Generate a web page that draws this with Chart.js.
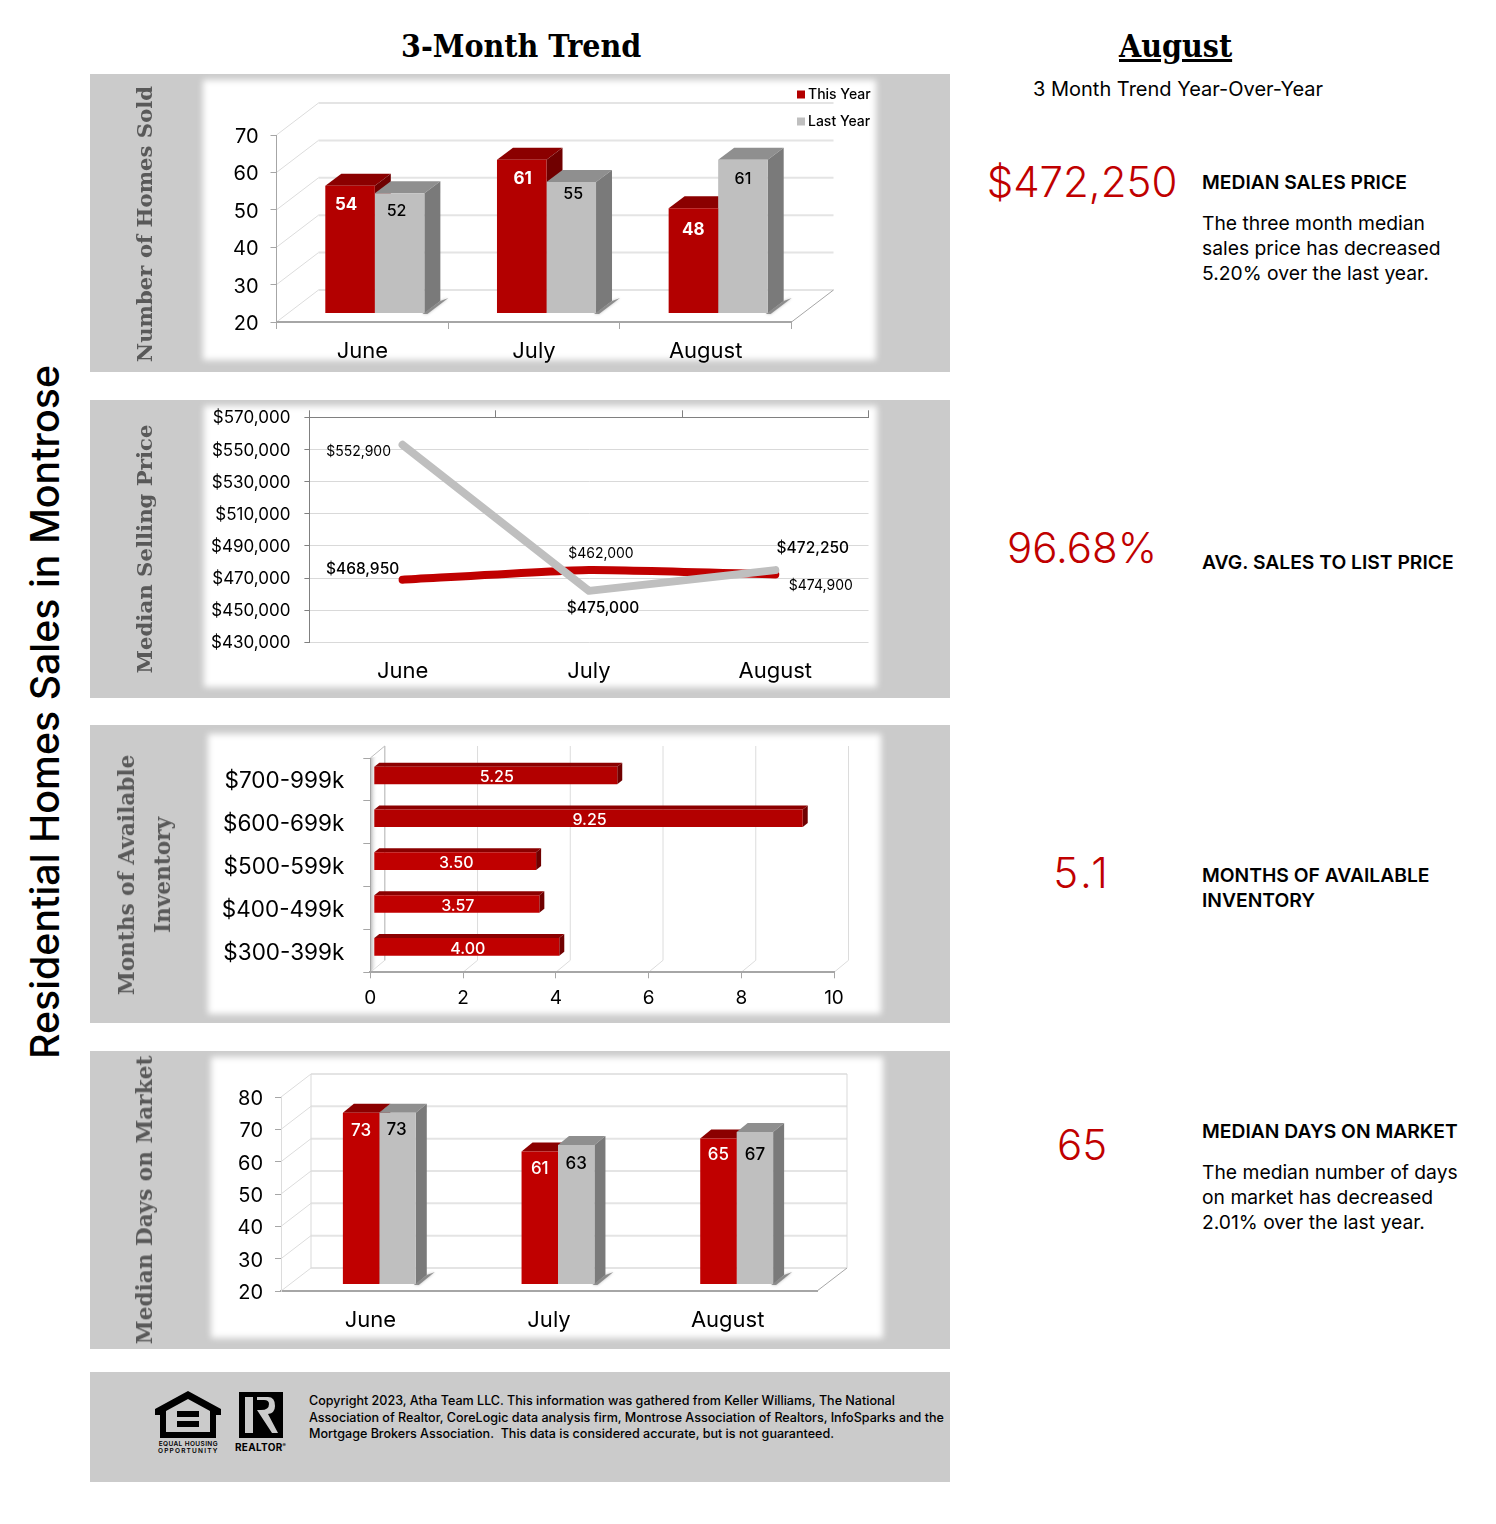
<!DOCTYPE html>
<html lang="en">
<head>
<meta charset="UTF-8" />
<title>Residential Homes Sales in Montrose</title>
<script src="https://cdn.jsdelivr.net/npm/chart.js"></script>
<style>
    html, body { margin: 0; padding: 0; background: #fff; }
    body { position: relative; width: 1496px; height: 1524px; overflow: hidden; font-family: Inter, sans-serif; color: #000; }
    .abs { position: absolute; white-space: nowrap; }
    .panel { position: absolute; left: 90px; width: 860px; background: #cbcbcb; }
    .inner { position: absolute; background: #fff; filter: blur(3px); }
    canvas { position: absolute; left: 90px; }
    .head { font-family: "DejaVu Serif Condensed", "DejaVu Serif", serif; font-weight: 700; font-size: 31.8px; line-height: 36px; }
    .side { position: absolute; font-family: "DejaVu Serif", serif; font-weight: 700; color: #595959; font-size: 21.6px; line-height: 36px;
            transform: translate(-50%, -50%) rotate(-90deg); white-space: nowrap; text-align: center; }
    .big { position: absolute; left: 960px; width: 244px; text-align: center; color: #c00000; font-size: 42px; line-height: 54px; font-weight: 300; }
    .cap { position: absolute; left: 1202px; font-size: 19.3px; line-height: 25px; font-weight: 600; white-space: nowrap; }
    .txt { position: absolute; left: 1202px; font-size: 19.3px; line-height: 25px; white-space: nowrap; }
</style>
</head>
<body>

<div class="panel" style="top:74px;height:298px"></div>
<div class="panel" style="top:400px;height:298px"></div>
<div class="panel" style="top:725px;height:298px"></div>
<div class="panel" style="top:1051px;height:298px"></div>
<div class="panel" style="top:1372px;height:110px"></div>

<div class="inner" style="left:203px;top:80px;width:673px;height:280px"></div>
<div class="inner" style="left:204px;top:406px;width:673px;height:281px"></div>
<div class="inner" style="left:208px;top:734px;width:673px;height:280px"></div>
<div class="inner" style="left:211px;top:1057px;width:672px;height:281px"></div>

<canvas id="soldChart" width="860" height="298" style="top:74px"></canvas>
<canvas id="priceChart" width="860" height="298" style="top:400px"></canvas>
<canvas id="inventoryChart" width="860" height="298" style="top:725px"></canvas>
<canvas id="daysChart" width="860" height="298" style="top:1051px"></canvas>

<div class="abs head" style="left:401px;top:28px">3-Month Trend</div>
<div class="abs head" style="left:1119px;top:28px;text-decoration:underline">August</div>
<div class="abs" style="left:1033px;top:77px;font-size:20px;line-height:25px">3 Month Trend Year-Over-Year</div>

<div class="abs" style="left:45px;top:712px;transform:translate(-50%,-50%) rotate(-90deg);font-size:39.3px;font-weight:500;line-height:44px">Residential Homes Sales in Montrose</div>

<div class="side" style="left:145px;top:224px;font-size:21.2px">Number of Homes Sold</div>
<div class="side" style="left:145px;top:549px;font-size:21.25px">Median Selling Price</div>
<div class="side" style="left:145px;top:875px">Months of Available<br>Inventory</div>
<div class="side" style="left:145px;top:1200px">Median Days on Market</div>

<div class="big" style="top:155px">$472,250</div>
<div class="cap" style="top:170px">MEDIAN SALES PRICE</div>
<div class="txt" style="top:211px">The three month median<br>sales price has decreased<br>5.20% over the last year.</div>

<div class="big" style="top:521px">96.68%</div>
<div class="cap" style="top:550px">AVG. SALES TO LIST PRICE</div>

<div class="big" style="top:846px;letter-spacing:3px">5.1</div>
<div class="cap" style="top:863px">MONTHS OF AVAILABLE<br>INVENTORY</div>

<div class="big" style="top:1118px">65</div>
<div class="cap" style="top:1119px">MEDIAN DAYS ON MARKET</div>
<div class="txt" style="top:1160px">The median number of days<br>on market has decreased<br>2.01% over the last year.</div>

<!-- footer logos -->
<svg class="abs" style="left:150px;top:1386px" width="140" height="56" viewBox="0 0 140 56">
    <path d="M38 5 L5 23 V29 H10 V52 H66 V29 H71 V23 Z M38 13 L60 25 V46 H16 V25 Z" fill="#000" fill-rule="evenodd"/>
    <rect x="27" y="25" width="22" height="6" fill="#000"/>
    <rect x="27" y="35" width="22" height="6" fill="#000"/>
    <rect x="89" y="6" width="44" height="46" fill="#000"/>
    <path d="M95 11 H103 V47 H95 Z M107 11 H118 Q125 11 125 20 Q125 27 118 28 L128 47 H122 L107 24 H111 Q119 24 119 18 Q119 14 114 14 H107 Z" fill="#cbcbcb"/>
</svg>
<div class="abs" style="left:158px;top:1441px;font-size:6.5px;line-height:7px;font-weight:600;letter-spacing:.4px;text-align:center">EQUAL HOUSING<br><span style="letter-spacing:1.2px">OPPORTUNITY</span></div>
<div class="abs" style="left:235px;top:1439px;font-size:10px;line-height:12px;font-weight:700;letter-spacing:.3px">REALTOR<sup style="font-size:5px">®</sup></div>
<div class="abs" style="left:309px;top:1393px;font-size:12.55px;line-height:16.5px;font-weight:500">Copyright 2023, Atha Team LLC. This information was gathered from Keller Williams, The National<br>Association of Realtor, CoreLogic data analysis firm, Montrose Association of Realtors, InfoSparks and the<br>Mortgage Brokers Association.&nbsp; This data is considered accurate, but is not guaranteed.</div>

<script>
    // chart values
    const months = ['June', 'July', 'August'];

    const soldThisYear = [54, 61, 48];
    const soldLastYear = [52, 55, 61];

    const priceThisYear = [468950, 475000, 472250];
    const priceLastYear = [552900, 462000, 474900];

    const priceBands = ['$700-999k', '$600-699k', '$500-599k', '$400-499k', '$300-399k'];
    const inventoryMonths = [5.25, 9.25, 3.50, 3.57, 4.00];

    const daysThisYear = [73, 61, 65];
    const daysLastYear = [73, 63, 67];

    const RED = '#b30000', RED2 = '#c00000', GREY = '#bfbfbf';
    const FONT = 'Inter, sans-serif';

    Chart.defaults.font.family = FONT;
    Chart.defaults.color = '#000';
    Chart.defaults.animation = false;

    function darker(color) {
        return color === GREY ? { top: '#8f8f8f', side: '#7a7a7a' } : { top: '#8b0000', side: '#700000' };
    }

    function poly(ctx, pts, fill) {
        ctx.beginPath();
        pts.forEach((p, i) => i ? ctx.lineTo(p[0], p[1]) : ctx.moveTo(p[0], p[1]));
        ctx.closePath();
        ctx.fillStyle = fill;
        ctx.fill();
    }

    function line(ctx, pts, color, width) {
        ctx.beginPath();
        pts.forEach((p, i) => i ? ctx.lineTo(p[0], p[1]) : ctx.moveTo(p[0], p[1]));
        ctx.strokeStyle = color;
        ctx.lineWidth = width;
        ctx.stroke();
    }

    // fake 3d look: back wall, floor, bar tops and sides, all hung off the real scales
    const depthPlugin = {
        id: 'depth',
        beforeDraw(chart) {
            const o = chart.options.plugins.depth, ctx = chart.ctx;
            const { left, right, top, bottom } = chart.chartArea;
            const dx = o.wallDx, dy = o.wallDy;
            ctx.save();
            if (chart.options.indexAxis === 'y') {
                const s = chart.scales.x;
                s.ticks.forEach(t => {
                    const px = s.getPixelForValue(t.value);
                    line(ctx, [[px, bottom], [px + dx, bottom - dy], [px + dx, top - dy]], '#dcdcdc', 1);
                });
                line(ctx, [[left, top], [left + dx, top - dy], [left + dx, bottom - dy]], '#bdbdbd', 1);
                // shaded strip along the left wall
                const g = ctx.createLinearGradient(left, 0, left + dx * 0.5, 0);
                g.addColorStop(0, '#b5b5b5');
                g.addColorStop(1, 'rgba(255,255,255,0)');
                poly(ctx, [[left, top], [left + dx * 0.5, top - 2], [left + dx * 0.5, bottom - 8], [left, bottom]], g);
            } else {
                const s = chart.scales.y;
                s.ticks.forEach(t => {
                    const py = s.getPixelForValue(t.value);
                    line(ctx, [[left, py], [left + dx, py - dy]], '#dcdcdc', 1);
                    line(ctx, [[left + dx, py - dy], [right + dx, py - dy]], '#e4e4e4', 2);
                });
                line(ctx, [[right, bottom], [right + dx, bottom - dy]], '#a6a6a6', 1);
                if (o.frame) {
                    line(ctx, [[left + dx, top - dy], [left + dx, bottom - dy]], '#d9d9d9', 1);
                    line(ctx, [[right + dx, top - dy], [right + dx, bottom - dy]], '#d9d9d9', 1);
                }
            }
            ctx.restore();
        },
        beforeDatasetsDraw(chart) {
            const o = chart.options.plugins.depth, ctx = chart.ctx;
            const sx = o.shiftX, sy = o.shiftY, bx = o.barDx, by = o.barDy;
            ctx.save();
            chart.data.datasets.forEach((ds, i) => {
                chart.getDatasetMeta(i).data.forEach((el, j) => {
                    const color = Array.isArray(ds.backgroundColor) ? ds.backgroundColor[j] : ds.backgroundColor;
                    const c = darker(color);
                    if (chart.options.indexAxis === 'y') {
                        const x0 = el.base + sx, x1 = el.x + sx;
                        const y0 = el.y - el.height / 2 + sy, y1 = el.y + el.height / 2 + sy;
                        poly(ctx, [[x0, y0], [x0 + bx, y0 - by], [x1 + bx, y0 - by], [x1, y0]], c.top);
                        poly(ctx, [[x1, y0], [x1 + bx, y0 - by], [x1 + bx, y1 - by], [x1, y1]], c.side);
                    } else {
                        // base pixel sits below the axis when the scale does not start at 0
                        const x0 = el.x - el.width / 2 + sx, x1 = el.x + el.width / 2 + sx;
                        const y0 = el.y + sy, y1 = Math.min(el.base, chart.chartArea.bottom) + sy;
                        if (i === chart.data.datasets.length - 1) {
                            ctx.save();
                            ctx.shadowColor = 'rgba(0,0,0,.45)';
                            ctx.shadowBlur = 3;
                            poly(ctx, [[x1 - 2, y1 + 1], [x1 + bx, y1 - by], [x1 + bx + 8, y1 - by - 3], [x1 + 3, y1 + 1]], 'rgba(90,90,90,.6)');
                            ctx.restore();
                        }
                        poly(ctx, [[x0, y0], [x0 + bx, y0 - by], [x1 + bx, y0 - by], [x1, y0]], c.top);
                        poly(ctx, [[x1, y0], [x1 + bx, y0 - by], [x1 + bx, y1 - by], [x1, y1]], c.side);
                    }
                });
            });
            ctx.restore();
        },
        beforeDatasetDraw(chart) {
            const o = chart.options.plugins.depth;
            chart.ctx.save();
            chart.ctx.translate(o.shiftX, o.shiftY);
        },
        afterDatasetDraw(chart) {
            chart.ctx.restore();
        },
        afterDatasetsDraw(chart) {
            const o = chart.options.plugins.depth, ctx = chart.ctx;
            ctx.save();
            ctx.textAlign = 'center';
            ctx.textBaseline = 'middle';
            chart.data.datasets.forEach((ds, i) => {
                chart.getDatasetMeta(i).data.forEach((el, j) => {
                    ctx.font = o.labelFonts[i];
                    ctx.fillStyle = o.labelColors[i];
                    if (chart.options.indexAxis === 'y') {
                        ctx.fillText(ds.data[j].toFixed(2), (el.base + el.x) / 2 + o.shiftX + 1, el.y + o.shiftY + 2);
                    } else {
                        const n = o.labelNudge[i][j];
                        ctx.fillText(ds.data[j], el.x + o.shiftX + n[0], el.y + o.shiftY + o.labelDrop + n[1]);
                    }
                });
            });
            if (o.legend) {
                ctx.textAlign = 'left';
                ctx.font = '500 14px ' + FONT;
                chart.data.datasets.forEach((ds, i) => {
                    const ly = 20 + i * 27;
                    ctx.fillStyle = ds.backgroundColor;
                    ctx.fillRect(707, ly - 3.5, 8, 8);
                    ctx.fillStyle = '#000';
                    ctx.fillText(ds.label, 718, ly + 1);
                });
            }
            ctx.restore();
        }
    };

    const money = v => '$' + Number(v).toLocaleString('en-US');

    // label spots for the price lines, relative to their point
    const thisYearLabelNudge = [[-40, -10], [14, 38.5], [37.5, -26]];
    const lastYearLabelNudge = [[-44, 7.5], [12, -37.5], [45.5, 16]];

    const priceLabelsPlugin = {
        id: 'priceLabels',
        afterDatasetsDraw(chart) {
            const ctx = chart.ctx;
            ctx.save();
            ctx.textAlign = 'center';
            ctx.textBaseline = 'middle';
            ctx.fillStyle = '#000';
            chart.getDatasetMeta(0).data.forEach((pt, j) => {
                ctx.font = '500 15.5px ' + FONT;
                ctx.fillText(money(priceThisYear[j]), pt.x + thisYearLabelNudge[j][0], pt.y + thisYearLabelNudge[j][1]);
            });
            chart.getDatasetMeta(1).data.forEach((pt, j) => {
                ctx.font = '14px ' + FONT;
                ctx.fillText(money(priceLastYear[j]), pt.x + lastYearLabelNudge[j][0], pt.y + lastYearLabelNudge[j][1]);
            });
            ctx.restore();
        }
    };

    const tickFont = size => ({ family: FONT, size: size });

    // canvas text sits a bit high with Inter, push the tick labels down
    function nudgeLabels(s, dy) {
        if (s.nudged) return;
        s.nudged = true;
        const draw = s.drawLabels;
        s.drawLabels = function (area) {
            this.ctx.save();
            this.ctx.translate(0, dy);
            draw.call(this, area);
            this.ctx.restore();
        };
    }
    // scales reserve half a label past their ends, drop that so the plot area lands where we put it
    function noScalePadding(s) {
        s.paddingTop = s.paddingBottom = s.paddingLeft = s.paddingRight = 0;
    }
    const fitWidth = (w, dy = 2) => s => { s.width = w; noScalePadding(s); nudgeLabels(s, dy); };
    const fitHeight = h => s => { s.height = h; noScalePadding(s); };

    // June/July/August column chart with the 3d dressing
    function columnChart(id, thisYear, lastYear, yMin, yMax, color, opts) {
        return new Chart(document.getElementById(id), {
            type: 'bar',
            data: {
                labels: months,
                datasets: [
                    { label: 'This Year', data: thisYear, backgroundColor: color, categoryPercentage: opts.groupWidth, barPercentage: 1 },
                    { label: 'Last Year', data: lastYear, backgroundColor: GREY, categoryPercentage: opts.groupWidth, barPercentage: 1 }
                ]
            },
            options: {
                responsive: false,
                devicePixelRatio: 1,
                layout: { autoPadding: false, padding: opts.padding },
                plugins: {
                    legend: { display: false },
                    tooltip: { enabled: false },
                    depth: opts.depth
                },
                scales: {
                    x: {
                        afterFit: fitHeight(opts.xHeight),
                        grid: { drawOnChartArea: false, drawTicks: opts.xTicks, tickLength: 7, color: '#a6a6a6' },
                        border: { color: '#a6a6a6', width: 2 },
                        ticks: { font: tickFont(22), padding: opts.xPad }
                    },
                    y: {
                        min: yMin, max: yMax,
                        afterFit: fitWidth(opts.yWidth),
                        grid: { drawOnChartArea: false, tickLength: 6, color: '#a6a6a6' },
                        border: { color: opts.yLine, width: 1 },
                        ticks: { stepSize: 10, font: tickFont(20), padding: 12 }
                    }
                }
            },
            plugins: [depthPlugin]
        });
    }

    columnChart('soldChart', soldThisYear, soldLastYear, 20, 70, RED, {
        groupWidth: 0.577,
        padding: { left: 0, top: 61, right: 158.5, bottom: 0 },
        xHeight: 50, yWidth: 186.5, xPad: 9, xTicks: true, yLine: '#a6a6a6',
        depth: {
            wallDx: 42, wallDy: 32, shiftX: 12.5, shiftY: -9, barDx: 16, barDy: 12, legend: true, labelDrop: 19,
            labelNudge: [[[-4, 0], [1, 0], [0, 3]], [[-3, -1], [2, -7], [0, 1]]],
            labelFonts: ['700 17px ' + FONT, '500 16px ' + FONT], labelColors: ['#fff', '#000']
        }
    });

    new Chart(document.getElementById('priceChart'), {
        type: 'line',
        data: {
            labels: months,
            datasets: [
                { label: 'This Year', data: priceThisYear, borderColor: RED2, borderWidth: 8, tension: 0.15, borderCapStyle: 'round', pointRadius: 0, order: 2 },
                { label: 'Last Year', data: priceLastYear, borderColor: GREY, borderWidth: 8, borderCapStyle: 'round', borderJoinStyle: 'round', pointRadius: 0, order: 1 }
            ]
        },
        options: {
            responsive: false,
            devicePixelRatio: 1,
            layout: { autoPadding: false, padding: { left: 0, top: 10.3, right: 81.5, bottom: 0 } },
            plugins: { legend: { display: false }, tooltip: { enabled: false } },
            scales: {
                x: {
                    offset: true,
                    afterFit: fitHeight(55.7),
                    grid: { display: false },
                    border: { display: false },
                    ticks: { font: tickFont(22), padding: 8 }
                },
                xTop: {
                    type: 'category',
                    labels: months,
                    position: 'top',
                    offset: true,
                    afterFit: fitHeight(7),
                    grid: { drawOnChartArea: false, tickLength: 7, color: '#808080', offset: true },
                    border: { color: '#808080', width: 1 },
                    ticks: { display: false }
                },
                y: {
                    min: 430000, max: 570000,
                    afterFit: fitWidth(219.4, 1),
                    grid: { color: '#d9d9d9', tickColor: '#808080', tickLength: 5 },
                    border: { color: '#808080', width: 1 },
                    ticks: { stepSize: 20000, font: tickFont(17), padding: 14, callback: money }
                }
            }
        },
        plugins: [priceLabelsPlugin]
    });

    new Chart(document.getElementById('inventoryChart'), {
        type: 'bar',
        data: {
            labels: priceBands,
            datasets: [{
                label: 'Months of Available Inventory',
                data: inventoryMonths,
                backgroundColor: [RED, RED, RED2, RED2, RED2],
                categoryPercentage: 0.41,
                barPercentage: 1
            }]
        },
        options: {
            indexAxis: 'y',
            responsive: false,
            devicePixelRatio: 1,
            layout: { autoPadding: false, padding: { left: 0, top: 33, right: 116, bottom: 0 } },
            plugins: {
                legend: { display: false },
                tooltip: { enabled: false },
                depth: {
                    wallDx: 14.5, wallDy: 12, shiftX: 3.5, shiftY: -4, barDx: 5, barDy: 4,
                    labelFonts: ['500 16px ' + FONT], labelColors: ['#fff']
                }
            },
            scales: {
                x: {
                    min: 0, max: 10,
                    afterFit: fitHeight(50.7),
                    grid: { drawOnChartArea: false, tickLength: 6, color: '#a6a6a6' },
                    border: { color: '#a6a6a6', width: 2 },
                    ticks: { stepSize: 2, font: tickFont(19), maxRotation: 0, padding: 9 }
                },
                y: {
                    afterFit: fitWidth(280.3),
                    grid: { drawOnChartArea: false, tickLength: 7, color: '#a6a6a6' },
                    border: { color: '#a6a6a6', width: 1 },
                    ticks: { font: tickFont(22.5), padding: 19 }
                }
            }
        },
        plugins: [depthPlugin]
    });

    columnChart('daysChart', daysThisYear, daysLastYear, 20, 80, RED2, {
        groupWidth: 0.408,
        padding: { left: 0, top: 46, right: 133, bottom: 0 },
        xHeight: 58, yWidth: 191, xPad: 16, xTicks: false, yLine: '#dcdcdc',
        depth: {
            wallDx: 30, wallDy: 23, shiftX: 9, shiftY: -7, barDx: 11, barDy: 9, frame: true, labelDrop: 18,
            labelNudge: [[[0, 0], [0, -1], [0, -2]], [[-1, -1], [0, 1], [0, 5]]],
            labelFonts: ['500 17px ' + FONT, '500 17px ' + FONT], labelColors: ['#fff', '#000']
        }
    });
</script>

</body>
</html>
